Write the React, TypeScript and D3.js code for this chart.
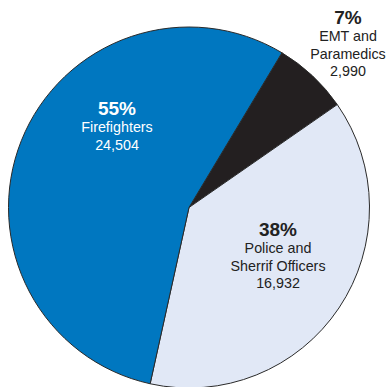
import React from "react";
import * as d3 from "d3";

const categories = ["EMT and Paramedics", "Police and Sherrif Officers", "Firefighters"];
const values = [2990, 16932, 24504];
const percents = ["7%", "38%", "55%"];
const labelLines = [["EMT and", "Paramedics", "2,990"], ["Police and", "Sherrif Officers", "16,932"], ["Firefighters", "24,504"]];
const colors = ["#231F20", "#E1E8F6", "#0077C0"];
const textColors = ["#222222", "#222222", "#FFFFFF"];

const W = 390, H = 387;
const cx = 189, cy = 207.5, R = 180.5;
const startDeg = 31;
const labelPos: [number, number][] = [[348, 24], [278, 236], [117, 115]];

export default function App() {
  const pie = d3.pie<number>().sort(null)
    .startAngle((startDeg * Math.PI) / 180)
    .endAngle(((startDeg + 360) * Math.PI) / 180);
  const arcs = pie(values);
  const arc = d3.arc<d3.PieArcDatum<number>>().innerRadius(0).outerRadius(R);
  return (
    <svg width={W} height={H} style={{ position: "absolute", left: 0, top: 0 }}
      fontFamily="'Liberation Sans', Arial, sans-serif">
      <g transform={`translate(${cx},${cy})`}>
        {arcs.map((a, i) => (
          <path key={categories[i]} d={arc(a) || ""} fill={colors[i]} stroke="#2a2a2a" strokeWidth={1} />
        ))}
      </g>
      {labelPos.map(([x, y], i) => (
        <g key={i} fill={textColors[i]} textAnchor="middle">
          <text x={x} y={y} fontSize={19} fontWeight="bold">{percents[i]}</text>
          {labelLines[i].map((l, j) => (
            <text key={j} x={x} y={y + 17.3 * (j + 1)} fontSize={14.3}>{l}</text>
          ))}
        </g>
      ))}
    </svg>
  );
}
